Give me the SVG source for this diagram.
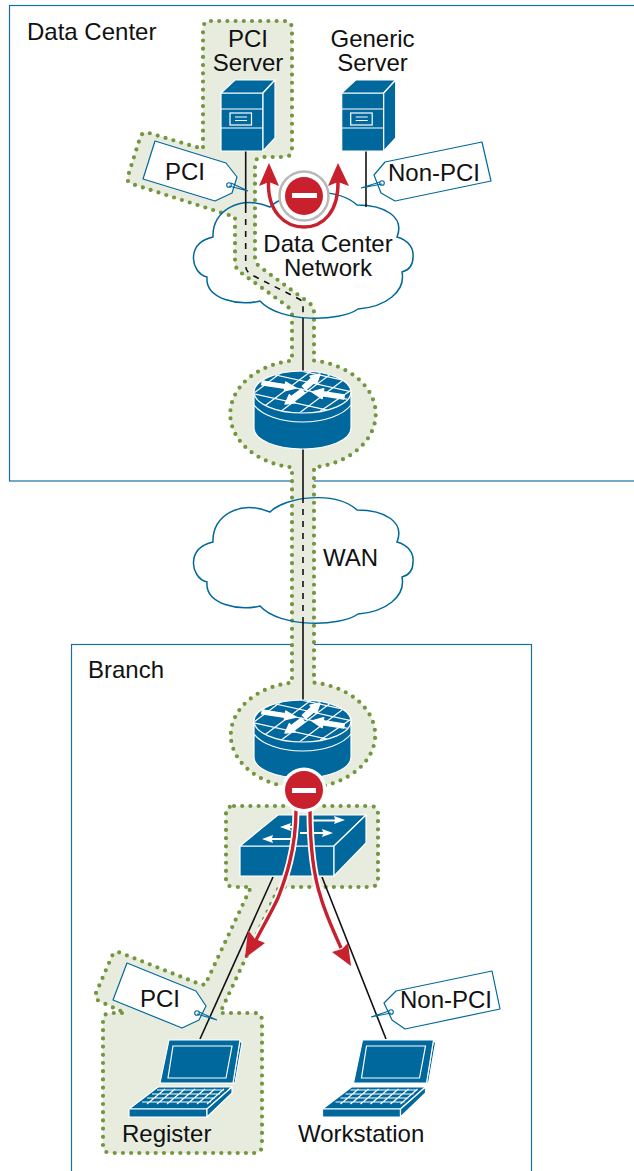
<svg xmlns="http://www.w3.org/2000/svg" xmlns:xlink="http://www.w3.org/1999/xlink" width="634" height="1171" viewBox="0 0 634 1171">
<style>
text{font-family:"Liberation Sans",Arial,sans-serif;font-size:24px;fill:#111}
.m{text-anchor:middle}
.box{fill:#fff;stroke:#1a6f9e;stroke-width:1.2}
.cloud{fill:#fff;stroke:none}
.cl{fill:none;stroke:#00689c;stroke-width:1.5}
.zone{fill:#e7ecdf;stroke:#73963f;stroke-width:4.2;stroke-linecap:round;stroke-dasharray:0 8.2}
.icon{fill:#00689c;stroke:#fff;stroke-width:1.2;stroke-linejoin:round}
.wl{fill:none;stroke:#fff;stroke-width:1.2}
.wa{fill:#fff;stroke:none}
.wb{fill:#fff;stroke:#fff;stroke-width:1.4;stroke-linejoin:round}
.ln{fill:none;stroke:#111;stroke-width:1.6}
.dash{stroke-dasharray:6 6}
.tag{fill:#fff;stroke:#00689c;stroke-width:1.2;stroke-linejoin:round}
.pin{fill:none;stroke:#00689c;stroke-width:1.1}
.halo{fill:none;stroke:#fff;stroke-width:7}
.red{fill:none;stroke:#c8202d;stroke-width:3.4}
.rh{fill:#c8202d;stroke:none}
</style>
<defs>
<path id="cloudp" d="M193.500 562C194 552 200 545 213 542C212 515 240 500 270 512C285 497 335 490 357 510C385 510 405 522 397 542C408 545 414 553 413 562C413 570 410 575 402 577C406 597 385 612 358 614C340 627 280 628 260 606C240 611 205 605 207 582C198 580 193 570 193.500 562Z"/>
<clipPath id="rtop"><ellipse cx="302.500" cy="392" rx="48" ry="20.500"/></clipPath>
<g id="server">
<path class="icon" d="M221 93H263V151H221Z"/>
<path class="icon" d="M221 93L235 80H275L263 93Z"/>
<path class="icon" d="M263 93L275 80V138L263 151Z"/>
<path class="wl" d="M221 109H263M221 128H263"/>
<rect class="wl" x="230" y="113" width="21.500" height="12"/>
<path class="wl" d="M235 117H247M235 120.500H247"/>
</g>
<g id="router">
<path class="icon" d="M254 392V428C254 440 276 449 302.500 449C329 449 351 440 351 428V392Z"/>
<ellipse class="icon" cx="302.500" cy="392" rx="48.500" ry="21"/>
<path class="wl" d="M254 405C262 415 280 422 302.500 422C325 422 343 415 351 405"/>
<g clip-path="url(#rtop)">
<path class="wl" stroke-width="1" d="M250 396L290 366M262 408L322 363M280 412L340 367M298 414L358 369M316 414L366 380M250 378L360 402M262 372L362 394M278 366L370 386M245 392L345 414"/>
<path class="wb" d="M261.700 384.800L262.300 381.200L285.400 384.600L285.800 382L296 388L284.400 390.900L284.800 388.200Z"/>
<path class="wb" d="M305.700 389.900L302.400 386.100L311.600 378L310 376.200L320 374L316.600 383.700L315 381.800Z"/>
<path class="wb" d="M304.500 393L301.500 389L290.800 396.700L289.400 394.600L285 404L295.200 402.800L293.800 400.700Z"/>
<path class="wb" d="M343.700 399L344.300 395L323.200 391.700L323.700 388.800L312 392L322.100 398.600L322.600 395.700Z"/>
</g>
</g>
<g id="laptop">
<path class="icon" d="M240 1040L242 1043L235 1083H233Z"/>
<path class="icon" d="M169 1040H240L233 1083H160Z"/>
<path class="wl" d="M173 1046H232L226 1078H168Z"/>
<path class="icon" d="M158 1087H232L207 1109H129Z"/>
<path class="icon" d="M129 1109H207V1117H129Z"/>
<path class="icon" d="M207 1109L232 1087V1093L207 1117Z"/>
<path class="wl" stroke-width=".9" d="M157 1090H224M152 1094H220M147 1098H215M142 1102H211M165 1089L147 1104M175 1089L157 1104M185 1089L167 1104M195 1089L177 1104M205 1089L187 1104M215 1089L197 1104M224 1089L207 1104"/>
</g>
</defs>

<rect id="data-center" class="box" x="9.500" y="5.500" width="640" height="475.500"/>
<rect id="branch" class="box" x="71.500" y="644.500" width="460" height="540"/>
<text x="27" y="40">Data Center</text>
<text x="88" y="678">Branch</text>

<use id="dc-cloud-fill" class="cloud" xlink:href="#cloudp" href="#cloudp" y="-305"/>
<use id="wan-cloud-fill" class="cloud" xlink:href="#cloudp" href="#cloudp"/>

<g id="zones">
<path class="zone" d="M211 21H284Q292 21 292 29V149Q292 157 284 157H263Q255 157 255 165V258Q255 263 260 267L308 302Q314 306 314 313V360.600A72.500 54 0 0 1 314 467.400V682.600A72 53 0 0 1 314 787.400L292 787.400A72 53 0 0 1 292 682.600V467.400A72.500 54 0 0 1 292 360.600V315Q292 310 287 306L240 272Q235 268 235 262V217L132 184Q126 182 128 176L140 138Q142 131 149 133L203 149V29Q203 21 211 21Z"/>
<path class="zone" d="M234 806H370Q378 806 378 814V879Q378 887 370 887H279L220 1013H254Q262 1013 262 1021V1145Q262 1153 254 1153H111Q103 1153 103 1145V1021Q103 1013 111 1013H125L99 1001Q94 998 96 993L112 956Q115 950 121 953L197 983L205 985L251 887H234Q226 887 226 879V814Q226 806 234 806Z"/>
</g>

<g id="dc-cloud"><use class="cl" xlink:href="#cloudp" href="#cloudp" y="-305"/></g>
<g id="wan-cloud"><use class="cl" xlink:href="#cloudp" href="#cloudp"/></g>

<g id="connectors">
<path class="ln" d="M245.700 151V207"/>
<path class="ln dash" d="M245.700 207V266Q246 272 252 275L299 299Q303 301 303 306V318"/>
<path class="ln" d="M303 318V371"/>
<path class="ln" d="M303 449V497"/>
<path class="ln dash" d="M303 497V623"/>
<path class="ln" d="M303 623V700"/>
<path class="ln" d="M366 151V207"/>
<path class="ln" d="M273 877L200 1039"/>
<path class="ln" d="M322 877L386 1039"/>
</g>

<g id="pci-server"><use xlink:href="#server" href="#server"/><text class="m" x="248" y="47">PCI</text><text class="m" x="248" y="71">Server</text></g>
<g id="generic-server"><use xlink:href="#server" href="#server" x="120.700"/><text class="m" x="372.500" y="47">Generic</text><text class="m" x="372.500" y="71">Server</text></g>
<g id="dc-router"><use xlink:href="#router" href="#router"/></g>
<g id="branch-router"><use xlink:href="#router" href="#router" y="329"/></g>
<g id="switch">
<path class="icon" d="M240 846H334V876H240Z"/>
<path class="icon" d="M278 815H366L334 846H240Z"/>
<path class="icon" d="M334 846L366 815V843L334 876Z"/>
<path class="wa" d="M280 827L291 823L290 826H297V828H290L291 831ZM262 839L273 835L272 838H292V840H272L273 843ZM345 820L334 824L335 821.500H313V819.500H335L334 816ZM333 833L322 837L323 834H300V832H323L322 829Z"/>
</g>
<g id="register"><use xlink:href="#laptop" href="#laptop"/><text x="122" y="1142">Register</text></g>
<g id="workstation"><use xlink:href="#laptop" href="#laptop" x="193.500"/><text x="298" y="1142">Workstation</text></g>

<g id="tag-pci-top">
<path class="tag" d="M155 141L226 163L237 177L232 193L215 201L143 179Z"/>
<circle class="pin" cx="229" cy="185" r="2.300"/>
<path class="pin" d="M229 186L248 191L231 183"/>
<text class="m" x="185" y="180">PCI</text>
</g>
<g id="tag-nonpci-top">
<path class="tag" d="M385 162L482 142L491 181L395 201L381 193L374 175Z"/>
<circle class="pin" cx="382" cy="183" r="2.300"/>
<path class="pin" d="M382 184L361 188L380 182"/>
<text x="388" y="181">Non-PCI</text>
</g>
<g id="tag-pci-bottom">
<path class="tag" d="M127 963L196 991L206 1006L199 1020L182 1028L113 1000Z"/>
<circle class="pin" cx="197" cy="1013" r="2.300"/>
<path class="pin" d="M197 1014L217 1020L199 1012"/>
<text class="m" x="160" y="1007">PCI</text>
</g>
<g id="tag-nonpci-bottom">
<path class="tag" d="M396 991L492 971L500 1009L405 1029L392 1020L384 1003Z"/>
<circle class="pin" cx="391" cy="1012" r="2.300"/>
<path class="pin" d="M391 1013L371 1017L389 1011"/>
<text x="400" y="1008">Non-PCI</text>
</g>

<g id="blocked-dc">
<path class="red" d="M268.500 180C267 212 285 227 304 227C323 227 339 212 338 180"/>
<path class="rh" d="M269 163L279 186L269 182L259 186Z"/>
<path class="rh" d="M338 163L349 186L338 182L328 186Z"/>
<circle cx="304" cy="196" r="24.500" fill="#fff" stroke="#b8b8b8" stroke-width="2.500"/>
<circle cx="304" cy="196" r="19" fill="#c8202d"/>
<rect x="292" y="193" width="25" height="5" fill="#fff"/>
</g>

<g id="blocked-branch">
<path class="halo" d="M296 810C296 850 285 880 278 898C270 915 262 928 255 942"/>
<path class="halo" d="M310 810C310 850 315 880 321 898C326 915 333 930 341 948"/>
<path class="red" d="M296 810C296 850 285 880 278 898C270 915 262 928 255 942"/>
<path class="red" d="M310 810C310 850 315 880 321 898C326 915 333 930 341 948"/>
<path class="rh" d="M245 958L248 930L255 939L265 943Z"/>
<path class="rh" d="M351 966L332 952L342 949L348 943Z"/>
<circle cx="304" cy="790" r="22.500" fill="#fff"/>
<circle cx="304" cy="790" r="19" fill="#c8202d"/>
<rect x="292" y="788" width="24" height="5" fill="#fff"/>
</g>

<text class="m" x="328" y="252">Data Center</text>
<text class="m" x="328" y="276">Network</text>
<text x="323" y="566">WAN</text>
</svg>
